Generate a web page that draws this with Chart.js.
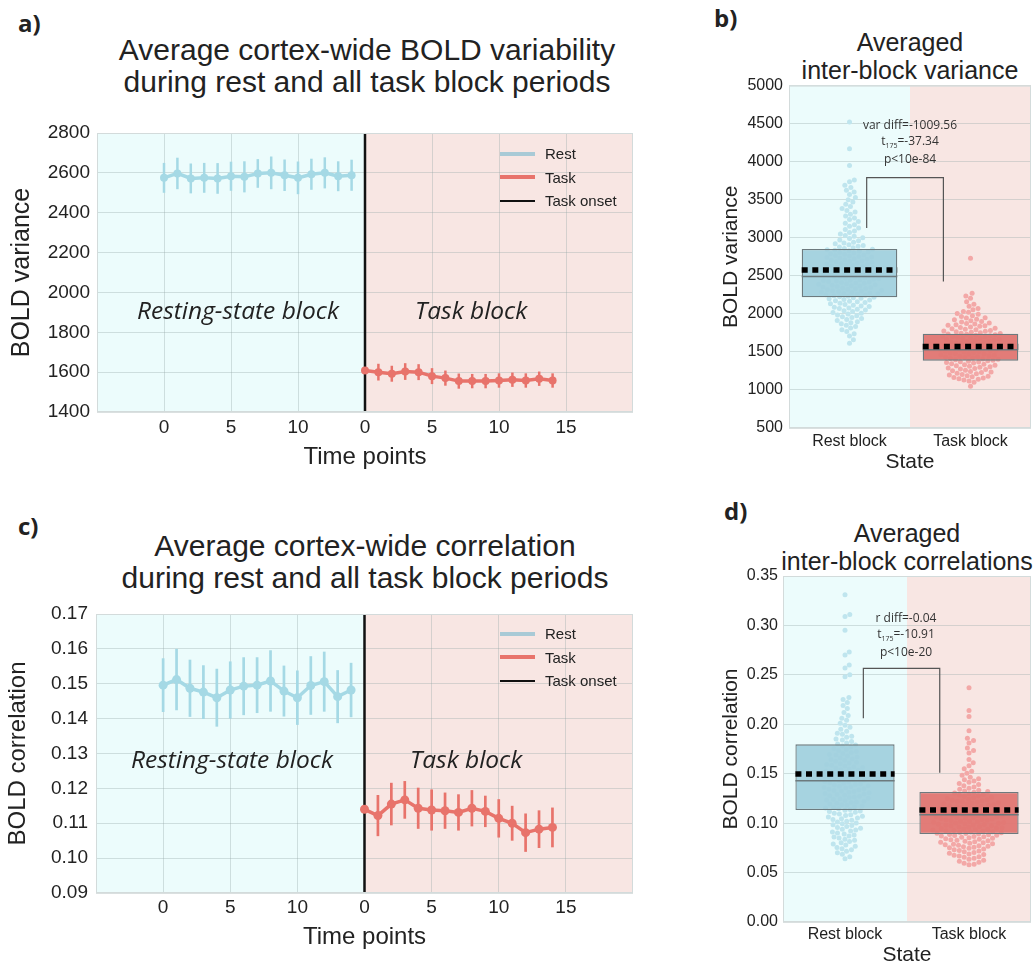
<!DOCTYPE html>
<html>
<head>
<meta charset="utf-8">
<script src="https://cdn.jsdelivr.net/npm/chart.js@4.4.1/dist/chart.umd.min.js"></script>
<style>
  body { margin: 0; width: 1035px; height: 968px; position: relative; overflow: hidden; background: #fff;
         font-family: 'Liberation Sans', Arial, sans-serif; color: #222; }
  canvas { position: absolute; }
  .t { position: absolute; text-align: center; white-space: nowrap; }
  .big { font-size: 30px; line-height: 32px; width: 600px; }
  .mid { font-size: 25px; line-height: 28px; width: 320px; }
  .lab { position: absolute; font: bold 24px 'Open Sans', sans-serif; }
  .blk { position: absolute; font: italic 24.5px 'Open Sans', sans-serif; white-space: nowrap; }
  .stat { position: absolute; width: 200px; text-align: center; font: 12px 'Open Sans', sans-serif; line-height: 16px; color: #333; }
  .stat sub { font-size: 7px; vertical-align: baseline; position: relative; top: 3px; }
  .leg { position: absolute; font: 15px 'Liberation Sans', sans-serif; color: #222; }
  .leg div { height: 23.5px; display: flex; align-items: center; }
  .leg span { display: inline-block; width: 35px; margin-right: 10px; }
</style>
</head>
<body>
<div class="lab" style="left:18px;top:6px">a)</div>
<div class="lab" style="left:714px;top:1px">b)</div>
<div class="lab" style="left:18px;top:509px">c)</div>
<div class="lab" style="left:724px;top:494px">d)</div>

<div class="t big" style="left:67px;top:34px">Average cortex-wide BOLD variability<br>during rest and all task block periods</div>
<div class="t big" style="left:65px;top:530px">Average cortex-wide correlation<br>during rest and all task block periods</div>
<div class="t mid" style="left:750px;top:28px">Averaged<br>inter-block variance</div>
<div class="t mid" style="left:747px;top:519px">Averaged<br>inter-block correlations</div>

<canvas id="varLine" width="650" height="370" style="left:0;top:110px"></canvas>
<canvas id="corrLine" width="650" height="376" style="left:0;top:590px"></canvas>
<canvas id="varBox" width="345" height="410" style="left:690px;top:70px"></canvas>
<canvas id="corrBox" width="345" height="408" style="left:690px;top:560px"></canvas>

<div class="blk" style="left:137px;top:293px">Resting-state block</div>
<div class="blk" style="left:415px;top:293px">Task block</div>
<div class="blk" style="left:131px;top:742px">Resting-state block</div>
<div class="blk" style="left:410px;top:742px">Task block</div>

<div class="leg" style="left:500px;top:142px">
  <div><span style="height:4px;background:#a9cad6"></span>Rest</div>
  <div><span style="height:4px;background:#e8736b"></span>Task</div>
  <div><span style="height:2.5px;background:#111"></span>Task onset</div>
</div>
<div class="leg" style="left:500px;top:622px">
  <div><span style="height:4px;background:#a9cad6"></span>Rest</div>
  <div><span style="height:4px;background:#e8736b"></span>Task</div>
  <div><span style="height:2.5px;background:#111"></span>Task onset</div>
</div>

<div class="stat" style="left:810px;top:117px">var diff=-1009.56<br>t<sub>175</sub>=-37.34<br>p&lt;10e-84</div>
<div class="stat" style="left:806px;top:610px">r diff=-0.04<br>t<sub>175</sub>=-10.91<br>p&lt;10e-20</div>

<script>
// ---- data ----
const restTime = [0, 1, 2, 3, 4, 5, 6, 7, 8, 9, 10, 11, 12, 13, 14];
const taskTime = [0, 1, 2, 3, 4, 5, 6, 7, 8, 9, 10, 11, 12, 13, 14];
const restTicks = [0, 5, 10];
const taskTicks = [0, 5, 10, 15];
const ONSET = 15; // task block starts right after the 15 rest time points

const restVar = [2575, 2597, 2572, 2575, 2572, 2583, 2580, 2597, 2600, 2588, 2575, 2593, 2600, 2583, 2588];
const restVarErr = [75, 79, 75, 75, 77, 73, 78, 72, 82, 79, 82, 78, 78, 75, 78];
const taskVar = [1608, 1600, 1592, 1603, 1600, 1580, 1570, 1555, 1555, 1555, 1558, 1562, 1558, 1567, 1558];
const taskVarErr = [15, 42, 40, 42, 40, 40, 38, 38, 36, 36, 36, 36, 36, 36, 36];

const restCorr = [0.1496, 0.1512, 0.1487, 0.1476, 0.1460, 0.1482, 0.1493, 0.1496, 0.1508, 0.1479, 0.1460, 0.1495, 0.1506, 0.1463, 0.1482];
const restCorrErr = [0.0077, 0.0088, 0.0082, 0.0077, 0.0083, 0.0082, 0.0083, 0.0080, 0.0088, 0.0073, 0.0078, 0.0084, 0.0086, 0.0076, 0.0078];
const taskCorr = [0.1140, 0.1122, 0.1155, 0.1167, 0.1143, 0.1138, 0.1136, 0.1131, 0.1143, 0.1134, 0.1114, 0.1100, 0.1073, 0.1083, 0.1088];
const taskCorrErr = [0.0010, 0.0059, 0.0061, 0.0054, 0.0059, 0.0059, 0.0052, 0.0052, 0.0052, 0.0045, 0.0055, 0.0050, 0.0055, 0.0054, 0.0057];

const stateLabels = ['Rest block', 'Task block'];

// per-subject inter-block variance
const restVarSubj = [
  4520, 4170, 3950,
  3760, 3735, 3690, 3660, 3625, 3600, 3570, 3530, 3500,
  3470, 3440, 3410, 3385, 3360, 3340, 3310, 3285,
  3260, 3240, 3215, 3190, 3170, 3150, 3130, 3110, 3090, 3070, 3050,
  3030, 3020, 3000, 2990, 2970, 2960, 2940, 2930, 2920, 2910, 2900, 2890, 2880, 2870, 2860,
  2850, 2843, 2836, 2829, 2822, 2814, 2806, 2799, 2791, 2783, 2775,
  2768, 2761, 2754, 2747, 2740, 2733, 2726, 2719, 2712, 2705, 2698, 2691,
  2684, 2677, 2670, 2663, 2656, 2649, 2642, 2635, 2628, 2621, 2614, 2607,
  2600, 2594, 2587, 2581, 2574, 2568, 2561, 2555, 2548, 2542, 2535, 2529, 2522,
  2516, 2510, 2503, 2497, 2491, 2485, 2479, 2473, 2467, 2461, 2455, 2449, 2443, 2437,
  2431, 2425, 2419, 2413, 2407, 2401, 2395, 2389, 2383, 2377, 2371, 2365, 2359, 2353, 2347,
  2341, 2335, 2329, 2323, 2317, 2311, 2305, 2299, 2293, 2287, 2281, 2275, 2269, 2263, 2257,
  2251, 2245, 2239, 2232, 2226, 2219, 2212, 2205, 2198, 2190, 2182, 2174, 2166, 2158, 2150,
  2141, 2132, 2123, 2114, 2105, 2096, 2087, 2078, 2069, 2060,
  2050, 2040, 2030, 2019, 2008, 1997, 1986, 1975, 1963,
  1951, 1938, 1925, 1912, 1898, 1884,
  1870, 1852, 1834, 1814, 1792,
  1768, 1740, 1710,
  1660, 1615
];
const taskVarSubj = [
  2730,
  2270, 2235, 2205, 2160, 2125, 2100,
  2070, 2055, 2030, 2020, 2005, 1995, 1975,
  1965, 1950, 1945, 1930, 1922, 1910, 1900, 1893, 1880,
  1872, 1866, 1857, 1850, 1843, 1836, 1828, 1820, 1812, 1806, 1797, 1790, 1783, 1776,
  1771, 1766, 1759, 1752, 1746, 1741, 1737, 1731, 1724, 1718, 1712, 1707, 1702, 1697, 1692, 1686, 1681, 1676,
  1671, 1664, 1657, 1650, 1644, 1638, 1631, 1625, 1618, 1612, 1606, 1600, 1594, 1588, 1582, 1576,
  1570, 1564, 1558, 1552, 1546, 1540, 1534, 1528, 1522, 1516, 1510, 1504, 1498, 1492, 1486, 1480,
  1474, 1468, 1462, 1456, 1450, 1444, 1438, 1432, 1426, 1420, 1414, 1408, 1402, 1396, 1390, 1384,
  1378, 1372, 1366, 1360, 1353, 1346, 1339, 1332, 1325, 1318, 1311, 1304, 1297,
  1290, 1283, 1276, 1268, 1260, 1252, 1244, 1236, 1228, 1220, 1212, 1204, 1196,
  1188, 1180, 1172, 1164, 1156, 1148, 1140, 1130, 1118, 1100,
  1050
];

// per-subject inter-block correlation
const restCorrSubj = [
  0.331, 0.311, 0.309, 0.295, 0.273, 0.270, 0.260, 0.257, 0.250, 0.248,
  0.227, 0.225, 0.222, 0.219, 0.216, 0.212, 0.209, 0.206, 0.204, 0.201, 0.199, 0.197,
  0.195, 0.193, 0.191, 0.190, 0.188, 0.187, 0.185, 0.184,
  0.1825, 0.181, 0.180, 0.179, 0.178, 0.177, 0.1755, 0.1745, 0.1735, 0.1725,
  0.1715, 0.1705, 0.1695, 0.169, 0.168, 0.167, 0.166, 0.165, 0.1645, 0.1635, 0.1625, 0.1615,
  0.1608, 0.160, 0.1592, 0.1585, 0.1578, 0.157, 0.1563, 0.1556, 0.1548, 0.1541, 0.1534, 0.1527, 0.152, 0.1513,
  0.1506, 0.1499, 0.1493, 0.1486, 0.148, 0.1473, 0.1467, 0.146, 0.1454, 0.1447, 0.1441, 0.1434, 0.1428, 0.1421, 0.1415,
  0.1409, 0.1403, 0.1397, 0.1391, 0.1385, 0.1379, 0.1373, 0.1367, 0.1361, 0.1355, 0.1349, 0.1343, 0.1337, 0.1331, 0.1325, 0.1319,
  0.1313, 0.1307, 0.1301, 0.1295, 0.1289, 0.1283, 0.1277, 0.1271, 0.1265, 0.1259, 0.1253, 0.1247, 0.1241, 0.1235, 0.1229,
  0.1222, 0.1215, 0.1208, 0.1201, 0.1194, 0.1187, 0.118, 0.1173, 0.1166, 0.1159, 0.1152, 0.1145, 0.1138, 0.1131,
  0.1124, 0.1117, 0.1109, 0.1101, 0.1093, 0.1085, 0.1077, 0.1069, 0.1061, 0.1053, 0.1045, 0.1037,
  0.1029, 0.102, 0.1011, 0.1002, 0.0993, 0.0984, 0.0975, 0.0966, 0.0957, 0.0948, 0.0939,
  0.093, 0.092, 0.091, 0.090, 0.089, 0.088, 0.087, 0.086, 0.085,
  0.0838, 0.0826, 0.0814, 0.0802, 0.079, 0.0778, 0.0766, 0.0754,
  0.0742, 0.073, 0.0716, 0.070, 0.0685,
  0.066, 0.064
];
const taskCorrSubj = [
  0.237, 0.214, 0.208, 0.1935, 0.186, 0.1835, 0.181, 0.176, 0.1735, 0.171,
  0.1645, 0.161, 0.158, 0.155,
  0.1525, 0.1505, 0.1485, 0.1465, 0.145,
  0.1438, 0.1426, 0.1414, 0.1402, 0.139, 0.1378, 0.1366, 0.1354, 0.1342,
  0.1333, 0.1326, 0.1319, 0.1312, 0.1305, 0.1298, 0.1291, 0.1284, 0.1277, 0.127, 0.1263, 0.1256, 0.1249, 0.1242,
  0.1237, 0.1232, 0.1227, 0.1222, 0.1217, 0.1212, 0.1207, 0.1202, 0.1197, 0.1192, 0.1187, 0.1182, 0.1177, 0.1172, 0.1167, 0.1162, 0.1157, 0.1152, 0.1147, 0.1142,
  0.1138, 0.1134, 0.113, 0.1126, 0.1122, 0.1118, 0.1114, 0.111, 0.1106, 0.1102, 0.1098, 0.1094, 0.109, 0.1086, 0.1082, 0.1078, 0.1074, 0.107, 0.1066, 0.1062, 0.1058, 0.1054,
  0.105, 0.1046, 0.1042, 0.1038, 0.1034, 0.103, 0.1026, 0.1022, 0.1018, 0.1014, 0.101, 0.1006, 0.1002, 0.0998, 0.0994, 0.099, 0.0986, 0.0982, 0.0978, 0.0974, 0.097, 0.0966, 0.0962, 0.0958,
  0.0954, 0.095, 0.0946, 0.0942, 0.0938, 0.0934, 0.093, 0.0926, 0.0922, 0.0918, 0.0914, 0.091, 0.0906, 0.0902, 0.0898, 0.0894, 0.089, 0.0886, 0.0882, 0.0878, 0.0874, 0.087, 0.0866, 0.0862,
  0.0857, 0.0852, 0.0847, 0.0842, 0.0837, 0.0832, 0.0827, 0.0822, 0.0817, 0.0812, 0.0807, 0.0802, 0.0797, 0.0792, 0.0787, 0.0782, 0.0777, 0.0772, 0.0767, 0.0762, 0.0757, 0.0752,
  0.0745, 0.0738, 0.0731, 0.0724, 0.0717, 0.071, 0.0703, 0.0696, 0.0689, 0.0682, 0.0675, 0.0668, 0.0661, 0.0654,
  0.0645, 0.0635, 0.0625, 0.0615, 0.0605, 0.0595,
  0.0585, 0.0578
];

// box summaries [lower quartile, upper quartile], medians, means (rest, task)
const varBoxRest = [2217, 2852];
const varBoxTask = [1385, 1740];
const varMedian = [2490, 1528];
const varMean = [2578, 1571];
const corrBoxRest = [0.1133, 0.1797];
const corrBoxTask = [0.0890, 0.1315];
const corrMedian = [0.1429, 0.1085];
const corrMean = [0.1497, 0.1132];

// significance brackets
const varBracketX = [0.142, 0.142, 0.776, 0.776];
const varBracketY = [3128, 3790, 3790, 2425];
const corrBracketX = [0.148, 0.148, 0.764, 0.764];
const corrBracketY = [0.206, 0.2566, 0.2566, 0.151];

// ---- styles ----
const REST = '#a5d9e5';
const TASK = '#e8736b';
const REST_BG = '#ecfcfc';
const TASK_BG = '#f8e6e3';
const REST_BOX = 'rgba(160,208,222,0.93)';
const TASK_BOX = 'rgba(224,118,114,0.95)';
const REST_DOT = '#bfe5ee';
const TASK_DOT = '#f3a8a7';
const BOX_EDGE = '#6d7a7e';
const GRID = 'rgba(150,165,165,0.35)';
const FRAME = '#d3dbdb';
const DOT_R = 2.5;

Chart.defaults.font.family = "'Liberation Sans', Arial, sans-serif";
Chart.defaults.color = '#222';

// light cyan / pink halves behind the grid, thin frame on top
const shade = {
  id: 'shade',
  beforeDraw(chart, args, opts) {
    const { ctx, chartArea: a, scales: { x } } = chart;
    const s = x.getPixelForValue(opts.split);
    ctx.save();
    ctx.fillStyle = REST_BG;
    ctx.fillRect(a.left, a.top, s - a.left, a.height);
    ctx.fillStyle = TASK_BG;
    ctx.fillRect(s, a.top, a.right - s, a.height);
    ctx.restore();
  },
  afterDraw(chart) {
    const { ctx, chartArea: a } = chart;
    ctx.save();
    ctx.strokeStyle = FRAME;
    ctx.lineWidth = 1;
    ctx.strokeRect(a.left + 0.5, a.top + 0.5, a.width - 1, a.height - 1);
    ctx.restore();
  }
};

// vertical error bars for datasets that carry an `errors` array
const errBars = {
  id: 'errBars',
  beforeDatasetsDraw(chart, args, opts) {
    const { ctx, scales: { x, y } } = chart;
    chart.data.datasets.forEach(ds => {
      if (!ds.errors) return;
      ctx.save();
      ctx.strokeStyle = ds.borderColor;
      ctx.lineWidth = opts.width;
      ds.data.forEach((p, i) => {
        const px = x.getPixelForValue(p.x);
        ctx.beginPath();
        ctx.moveTo(px, y.getPixelForValue(p.y - ds.errors[i]));
        ctx.lineTo(px, y.getPixelForValue(p.y + ds.errors[i]));
        ctx.stroke();
      });
      ctx.restore();
    });
  }
};

function timeChart(id, L, d) {
  return new Chart(document.getElementById(id), {
    type: 'scatter',
    data: {
      datasets: [
        {
          data: restTime.map((t, i) => ({ x: t, y: d.rest[i] })),
          errors: d.restErr,
          showLine: true,
          borderColor: REST,
          backgroundColor: REST,
          borderWidth: 3.5,
          pointRadius: L.pr,
          pointBorderWidth: 0,
        },
        {
          data: taskTime.map((t, i) => ({ x: t + ONSET, y: d.task[i] })),
          errors: d.taskErr,
          showLine: true,
          borderColor: TASK,
          backgroundColor: TASK,
          borderWidth: 3.5,
          pointRadius: L.pr,
          pointBorderWidth: 0,
        },
        {
          data: [{ x: ONSET, y: d.min }, { x: ONSET, y: d.max }],
          showLine: true,
          borderColor: '#111',
          borderWidth: 2.5,
          pointRadius: 0,
        },
      ],
    },
    options: {
      responsive: false,
      animation: false,
      devicePixelRatio: 1,
      layout: { padding: L.pad },
      plugins: {
        legend: { display: false },
        tooltip: { enabled: false },
        shade: { split: ONSET },
        errBars: { width: L.ew },
      },
      scales: {
        x: {
          type: 'linear',
          min: -5,
          max: 35,
          afterBuildTicks: s => {
            s.ticks = restTicks.map(v => ({ value: v }))
              .concat(taskTicks.map(v => ({ value: v + ONSET })));
          },
          ticks: {
            callback: v => (v >= ONSET ? v - ONSET : v),
            font: { size: 19 },
            color: '#222',
            padding: L.xtp,
            maxRotation: 0,
            autoSkip: false,
          },
          grid: { color: GRID, drawTicks: false },
          border: { display: false },
          title: {
            display: true,
            text: 'Time points',
            font: { size: 24 },
            color: '#222',
            padding: { top: 0, bottom: L.xtb },
          },
          afterFit: s => { s.height = L.xh; },
        },
        y: {
          min: d.min,
          max: d.max,
          ticks: {
            stepSize: d.step,
            callback: d.fmt,
            font: { size: 19 },
            color: '#222',
            padding: L.ytp,
          },
          grid: { color: GRID, drawTicks: false },
          border: { display: false },
          title: {
            display: true,
            text: d.title,
            font: { size: L.ytf },
            color: '#222',
            padding: { top: L.ytt, bottom: 0 },
          },
          afterFit: s => { s.width = L.yw; },
        },
      },
    },
    plugins: [shade, errBars],
  });
}

// seaborn-like swarm: each dot goes to the free spot nearest the category centre
function swarm(values, center, chart) {
  const xs = chart.scales.x;
  const ys = chart.scales.y;
  const cx = xs.getPixelForValue(center);
  const dd = 2 * DOT_R + 0.2;
  const placed = [];
  return values.slice().sort((a, b) => a - b).map(v => {
    const py = ys.getPixelForValue(v);
    const near = placed.filter(p => Math.abs(p.y - py) < dd);
    const cands = [0];
    near.forEach(p => {
      const dx = Math.sqrt(dd * dd - (p.y - py) ** 2);
      cands.push(p.x + dx, p.x - dx);
    });
    cands.sort((a, b) => Math.abs(a) - Math.abs(b));
    const best = cands.find(c => near.every(p => (p.x - c) ** 2 + (p.y - py) ** 2 >= dd * dd - 0.01));
    placed.push({ x: best, y: py });
    return { x: xs.getValueForPixel(cx + best), y: v };
  });
}

function boxChart(id, L, d) {
  const half = L.boxW / 2;
  const line = (pts, extra) => Object.assign({ data: pts, showLine: true, pointRadius: 0 }, extra);
  const chart = new Chart(document.getElementById(id), {
    type: 'scatter',
    data: {
      datasets: [
        { data: [], backgroundColor: REST_DOT, pointRadius: DOT_R, borderWidth: 0, order: 6 },
        { data: [], backgroundColor: TASK_DOT, pointRadius: DOT_R, borderWidth: 0, order: 6 },
        {
          type: 'bar',
          data: [{ x: 0, y: d.restBox }, { x: 1, y: d.taskBox }],
          backgroundColor: [REST_BOX, TASK_BOX],
          borderColor: BOX_EDGE,
          borderWidth: 1.3,
          borderSkipped: false,
          categoryPercentage: L.boxW,
          barPercentage: 1,
          order: 4,
        },
        line([{ x: -half, y: d.median[0] }, { x: half, y: d.median[0] }],
          { borderColor: BOX_EDGE, borderWidth: 1.5, order: 3 }),
        line([{ x: 1 - half, y: d.median[1] }, { x: 1 + half, y: d.median[1] }],
          { borderColor: BOX_EDGE, borderWidth: 1.5, order: 3 }),
        line([{ x: -half, y: d.mean[0] }, { x: half, y: d.mean[0] }],
          { borderColor: '#000', borderWidth: 5.5, borderDash: [6, 4.6], borderCapStyle: 'butt', order: 2 }),
        line([{ x: 1 - half, y: d.mean[1] }, { x: 1 + half, y: d.mean[1] }],
          { borderColor: '#000', borderWidth: 5.5, borderDash: [6, 4.6], borderCapStyle: 'butt', order: 2 }),
        line(d.bracketX.map((x, i) => ({ x, y: d.bracketY[i] })),
          { borderColor: '#555', borderWidth: 1.2, order: 1 }),
      ],
    },
    options: {
      responsive: false,
      animation: false,
      devicePixelRatio: 1,
      layout: { padding: L.pad },
      plugins: {
        legend: { display: false },
        tooltip: { enabled: false },
        shade: { split: 0.5 },
      },
      scales: {
        x: {
          type: 'linear',
          min: -0.5,
          max: 1.5,
          offset: false,
          afterBuildTicks: s => { s.ticks = [{ value: 0 }, { value: 1 }]; },
          ticks: {
            callback: v => stateLabels[v],
            font: { size: 16 },
            color: '#222',
            padding: L.xtp,
            maxRotation: 0,
            autoSkip: false,
          },
          grid: { display: false },
          border: { display: false },
          title: {
            display: true,
            text: 'State',
            font: { size: 21 },
            color: '#222',
            padding: { top: 0, bottom: L.xtb },
          },
          afterFit: s => { s.height = L.xh; },
        },
        y: {
          min: d.min,
          max: d.max,
          ticks: {
            stepSize: d.step,
            callback: d.fmt,
            font: { size: 16 },
            color: '#222',
            padding: L.ytp,
          },
          grid: { color: GRID, drawTicks: false },
          border: { display: false },
          title: {
            display: true,
            text: d.title,
            font: { size: 21 },
            color: '#222',
            padding: { top: L.ytt, bottom: 0 },
          },
          afterFit: s => { s.width = L.yw; },
        },
      },
    },
    plugins: [shade],
  });
  chart.data.datasets[0].data = swarm(d.restPts, 0, chart);
  chart.data.datasets[1].data = swarm(d.taskPts, 1, chart);
  chart.update('none');
  return chart;
}

timeChart('varLine',
  { pad: { top: 23, right: 17, left: 0, bottom: 0 }, yw: 97, xh: 68, ytp: 7, xtp: 4, xtb: 8, ytf: 25, ytt: 7, pr: 4, ew: 2.5 },
  { rest: restVar, restErr: restVarErr, task: taskVar, taskErr: taskVarErr,
    min: 1400, max: 2800, step: 200, fmt: v => v, title: 'BOLD variance' });

timeChart('corrLine',
  { pad: { top: 24, right: 17, left: 0, bottom: 0 }, yw: 96, xh: 73, ytp: 8, xtp: 3, xtb: 14, ytf: 24, ytt: 4, pr: 4.5, ew: 2.7 },
  { rest: restCorr, restErr: restCorrErr, task: taskCorr, taskErr: taskCorrErr,
    min: 0.09, max: 0.17, step: 0.01, fmt: v => v.toFixed(2), title: 'BOLD correlation' });

boxChart('varBox',
  { pad: { top: 12, right: 3, left: 0, bottom: 0 }, yw: 99, xh: 52, ytp: 6, xtp: -4, xtb: 5, ytt: 29, boxW: 0.79 },
  { restPts: restVarSubj, taskPts: taskVarSubj, restBox: varBoxRest, taskBox: varBoxTask,
    median: varMedian, mean: varMean, bracketX: varBracketX, bracketY: varBracketY,
    min: 500, max: 5000, step: 500, fmt: v => v, title: 'BOLD variance' });

boxChart('corrBox',
  { pad: { top: 16, right: 2, left: 0, bottom: 0 }, yw: 93, xh: 46, ytp: 5, xtp: -5, xtb: 0, ytt: 29, boxW: 0.8 },
  { restPts: restCorrSubj, taskPts: taskCorrSubj, restBox: corrBoxRest, taskBox: corrBoxTask,
    median: corrMedian, mean: corrMean, bracketX: corrBracketX, bracketY: corrBracketY,
    min: 0, max: 0.35, step: 0.05, fmt: v => v.toFixed(2), title: 'BOLD correlation' });
</script>
</body>
</html>
